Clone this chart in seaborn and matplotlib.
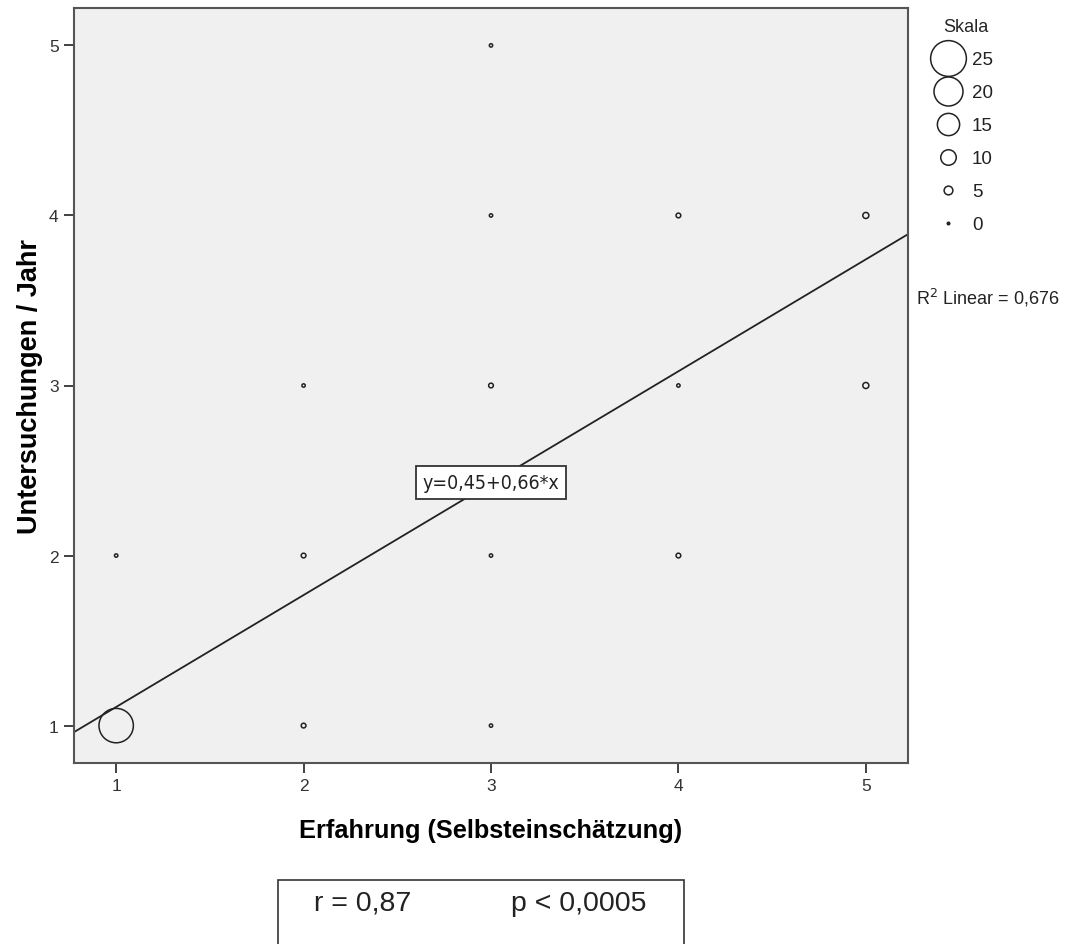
import numpy as np
import pandas as pd
import matplotlib
matplotlib.use("Agg")
import matplotlib.pyplot as plt
from matplotlib.lines import Line2D
from matplotlib.patches import Rectangle
import seaborn as sns

# Data: one bubble per (Erfahrung, Untersuchungen) pair, size = count
erfahrung = [1, 1, 2, 2, 2, 3, 3, 3, 3, 3, 4, 4, 4, 5, 5]
untersuchungen = [1, 2, 1, 2, 3, 1, 2, 3, 4, 5, 2, 3, 4, 3, 4]
anzahl = [24, 1, 2, 2, 1, 1, 1, 2, 1, 1, 2, 1, 2, 3, 3]

legend_values = [25, 20, 15, 10, 5, 0]
x_ticks = [1, 2, 3, 4, 5]
y_ticks = [1, 2, 3, 4, 5]

equation_label = "y=0,45+0,66*x"
r2_label = "R$^2$ Linear = 0,676"
stats_r = "r = 0,87"
stats_p = "p < 0,0005"

df = pd.DataFrame({"erfahrung": erfahrung, "untersuchungen": untersuchungen, "anzahl": anzahl})
# one row per person for the fit line
df_long = df.loc[df.index.repeat(df["anzahl"])].reset_index(drop=True)

sns.set_theme(style="white")
plt.rcParams["font.family"] = ["Liberation Sans", "DejaVu Sans"]

DPI = 100
fig = plt.figure(figsize=(10.71, 9.45), dpi=DPI)
ax = fig.add_axes([74 / 1071, 1 - 764 / 945, (908 - 74) / 1071, (764 - 9) / 945])
ax.set_facecolor("#f0f0f0")


def diam_px(n):
    # bubble diameter in pixels, roughly linear in count like the SPSS scale
    return 2 + 1.35 * n


def area_pt(n):
    return (diam_px(n) * 72 / DPI) ** 2


ax.set_xlim(0.775, 5.225)
ax.set_ylim(0.78, 5.22)

size_map = {n: area_pt(n) for n in sorted(set(anzahl))}
sns.scatterplot(data=df, x="erfahrung", y="untersuchungen", size="anzahl", sizes=size_map,
                facecolor="none", edgecolor="#222222", linewidth=1.1, legend=False, ax=ax, zorder=3)

sns.regplot(data=df_long, x="erfahrung", y="untersuchungen", scatter=False, ci=None,
            truncate=False, color="#222222", line_kws={"linewidth": 1.3}, ax=ax)
ax.set_xlim(0.775, 5.225)
ax.set_ylim(0.78, 5.22)

ax.text(3, 2.43, equation_label, ha="center", va="center", fontsize=14,
        family=["DejaVu Sans"], fontstretch="condensed", color="#222222",
        bbox=dict(boxstyle="square,pad=0.34", facecolor="white", edgecolor="#333333", linewidth=1.3),
        zorder=5)

ax.set_xticks(x_ticks)
ax.set_yticks(y_ticks)
ax.tick_params(axis="both", which="both", direction="out", length=7, width=1.3, color="#333333",
               labelsize=12.5, labelcolor="#333333", bottom=True, left=True, pad=4)
for s in ax.spines.values():
    s.set_visible(True)
    s.set_color("#555555")
    s.set_linewidth(1.5)

ax.set_xlabel("Erfahrung (Selbsteinschätzung)", fontsize=18.3, fontweight="bold", color="black", labelpad=18)
ax.set_ylabel("Untersuchungen / Jahr", fontsize=19.5, fontweight="bold", color="black", labelpad=4)

# bubble size legend
handles = [Line2D([], [], marker="o", linestyle="", markersize=max(diam_px(v), 2.5) * 72 / DPI,
                  markerfacecolor="none" if v > 0 else "#333333", markeredgecolor="#222222",
                  markeredgewidth=1.1) for v in legend_values]
leg = ax.legend(handles, [str(v) for v in legend_values], title="Skala", loc="upper left",
                bbox_to_anchor=(925 / 1071, 1 - 6 / 945), bbox_transform=fig.transFigure,
                frameon=False, fontsize=13.5, title_fontsize=13, handlelength=1.1, handletextpad=0.7,
                labelspacing=0.85, borderpad=0.2)
for t in leg.get_texts():
    t.set_color("#222222")

fig.text(916 / 1071, 1 - 298 / 945, r2_label, fontsize=13, ha="left", va="center", color="#222222")

# statistics box at the bottom
fig.patches.append(Rectangle((278 / 1071, -0.05), (684 - 278) / 1071, 0.05 + (945 - 881) / 945,
                             transform=fig.transFigure, facecolor="white", edgecolor="#333333",
                             linewidth=1.2))
fig.text(363 / 1071, 1 - 904 / 945, stats_r, fontsize=20.5, ha="center", va="center", color="#222222")
fig.text(579 / 1071, 1 - 904 / 945, stats_p, fontsize=20.5, ha="center", va="center", color="#222222")

fig.savefig("out.png", dpi=DPI)
